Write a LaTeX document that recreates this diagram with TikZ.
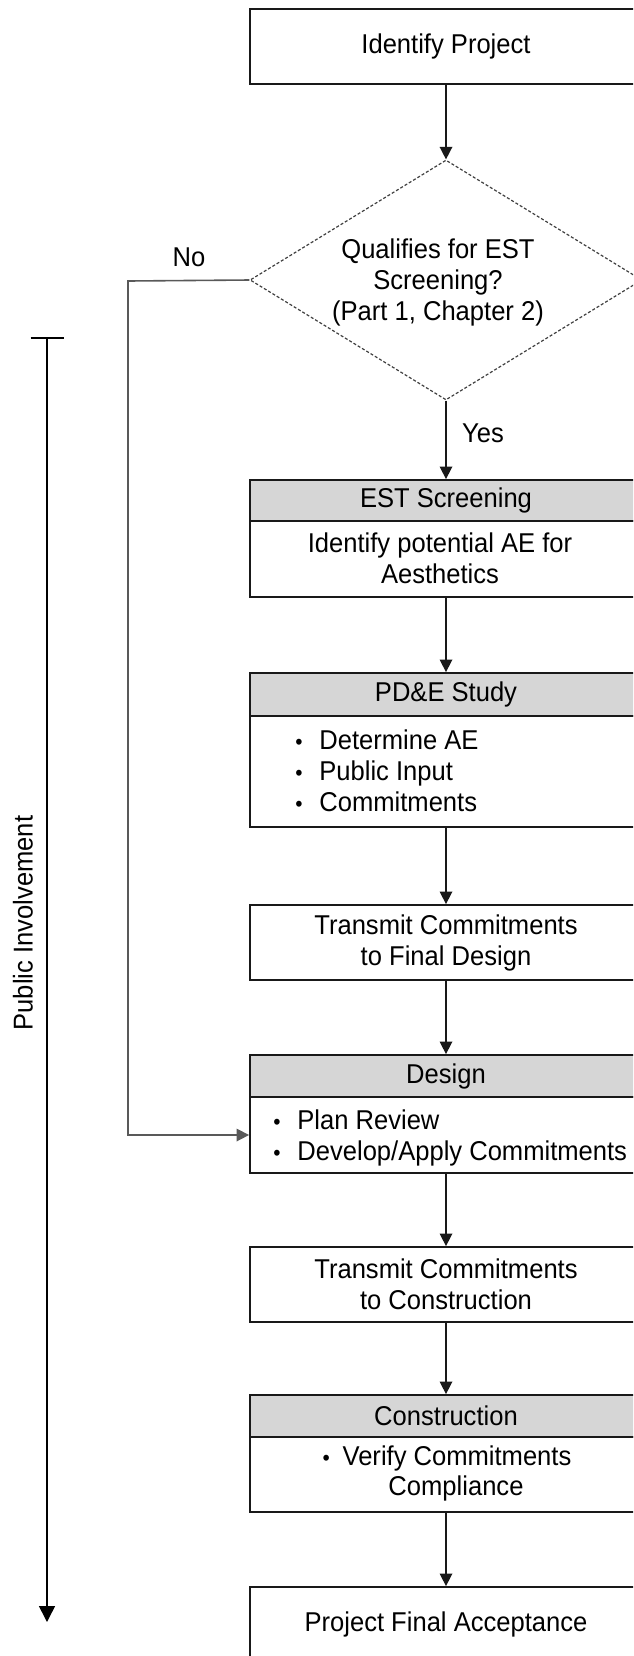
\documentclass[tikz,border=0pt]{standalone}
\usepackage{fontspec}
\setmainfont{Liberation Sans}[FakeStretch=0.94]
\usetikzlibrary{arrows.meta,shapes.geometric}
\definecolor{hdr}{RGB}{214,214,214}
\definecolor{ink}{RGB}{25,25,25}
\newcommand\bulx{\makebox[12pt][l]{\fontsize{11pt}{11pt}\selectfont •}}
\begin{document}
\begin{tikzpicture}[x=0.5pt,y=-0.5pt,
  font=\fontsize{13.6pt}{15.5pt}\selectfont,
  box/.style={draw=ink, line width=0.9pt, minimum width=196pt, inner sep=0pt, align=center, text=black},
  hdrbox/.style={box, fill=hdr},
  txt/.style={inner sep=0pt, text=black},
  arr/.style={draw=ink, line width=0.75pt, -{Triangle[length=6.3pt,width=6.3pt]}},
  noline/.style={draw=black!65, line width=0.8pt, -{Triangle[length=6.3pt,width=6.3pt]}},
]
\useasboundingbox (0,0) rectangle (633,1656);
\clip (0,0) rectangle (633,1656);

% boxes
\node[box, minimum height=37.5pt] (n1) at (446,46.5) {Identify Project};

\node[diamond, draw=black!75, line width=0.6pt, dash pattern=on 1.5pt off 1pt,
      minimum width=196pt, minimum height=120pt, inner sep=0pt] (d) at (446,280) {};
\node[txt, align=center] (dt) at (438,282) {Qualifies for EST\\Screening?\\(Part 1, Chapter 2)};

\node[hdrbox, minimum height=20.5pt] (esth) at (446,500.5) {EST Screening};
\node[box, minimum height=38pt] (estb) at (446,559) {};
\node[txt, align=center] (estt) at (440,558) {Identify potential AE for\\Aesthetics};

\node[hdrbox, minimum height=21.5pt] (pdeh) at (446,694.5) {PD\&E Study};
\node[box, minimum height=55.5pt] (pdeb) at (446,771.75) {};
\node[txt, align=left, anchor=west] (pdet) at (295,771) {\bulx Determine AE\\\bulx Public Input\\\bulx Commitments};

\node[box, minimum height=37.5pt] (t1) at (446,942.5) {Transmit Commitments\\to Final Design};

\node[hdrbox, minimum height=21pt] (desh) at (446,1076) {Design};
\node[box, minimum height=38pt] (desb) at (446,1135) {};
\node[txt, align=left, anchor=west] (dest) at (273,1138) {\bulx Plan Review\\\bulx Develop/Apply Commitments};

\node[box, minimum height=37.5pt] (t2) at (446,1284.5) {Transmit Commitments\\to Construction};

\node[hdrbox, minimum height=21pt] (conh) at (446,1416) {Construction};
\node[box, minimum height=37.5pt] (conb) at (446,1474.5) {};
\node[txt] (cv1) at (447,1458) {\makebox[10pt][l]{\fontsize{11pt}{11pt}\selectfont •}Verify Commitments};
\node[txt] (cv2) at (456,1488) {Compliance};

\node[box, minimum height=37.5pt] (fin) at (446,1624.5) {Project Final Acceptance};

% labels
\node[txt] (nolab) at (189,257) {No};
\node[txt] (yeslab) at (483,433) {Yes};
\node[txt, rotate=90] (pil) at (23,923) {Public Involvement};

% connectors
\draw[arr] (n1.south) -- (d.north);
\draw[arr] (d.south) -- (esth.north);
\draw[arr] (estb.south) -- (pdeh.north);
\draw[arr] (pdeb.south) -- (t1.north);
\draw[arr] (t1.south) -- (desh.north);
\draw[arr] (desb.south) -- (t2.north);
\draw[arr] (t2.south) -- (conh.north);
\draw[arr] (conb.south) -- (fin.north);

\coordinate (nc) at (128,281);
\draw[noline] (d.west) -- (nc) |- (desb.west);

\coordinate (pit) at (47,337);
\coordinate (pib) at (47,1622);
\draw[draw=black, line width=0.75pt, {Bar[width=16.5pt]}-{Triangle[length=8pt,width=8pt]}] (pit) -- (pib);
\end{tikzpicture}
\end{document}
